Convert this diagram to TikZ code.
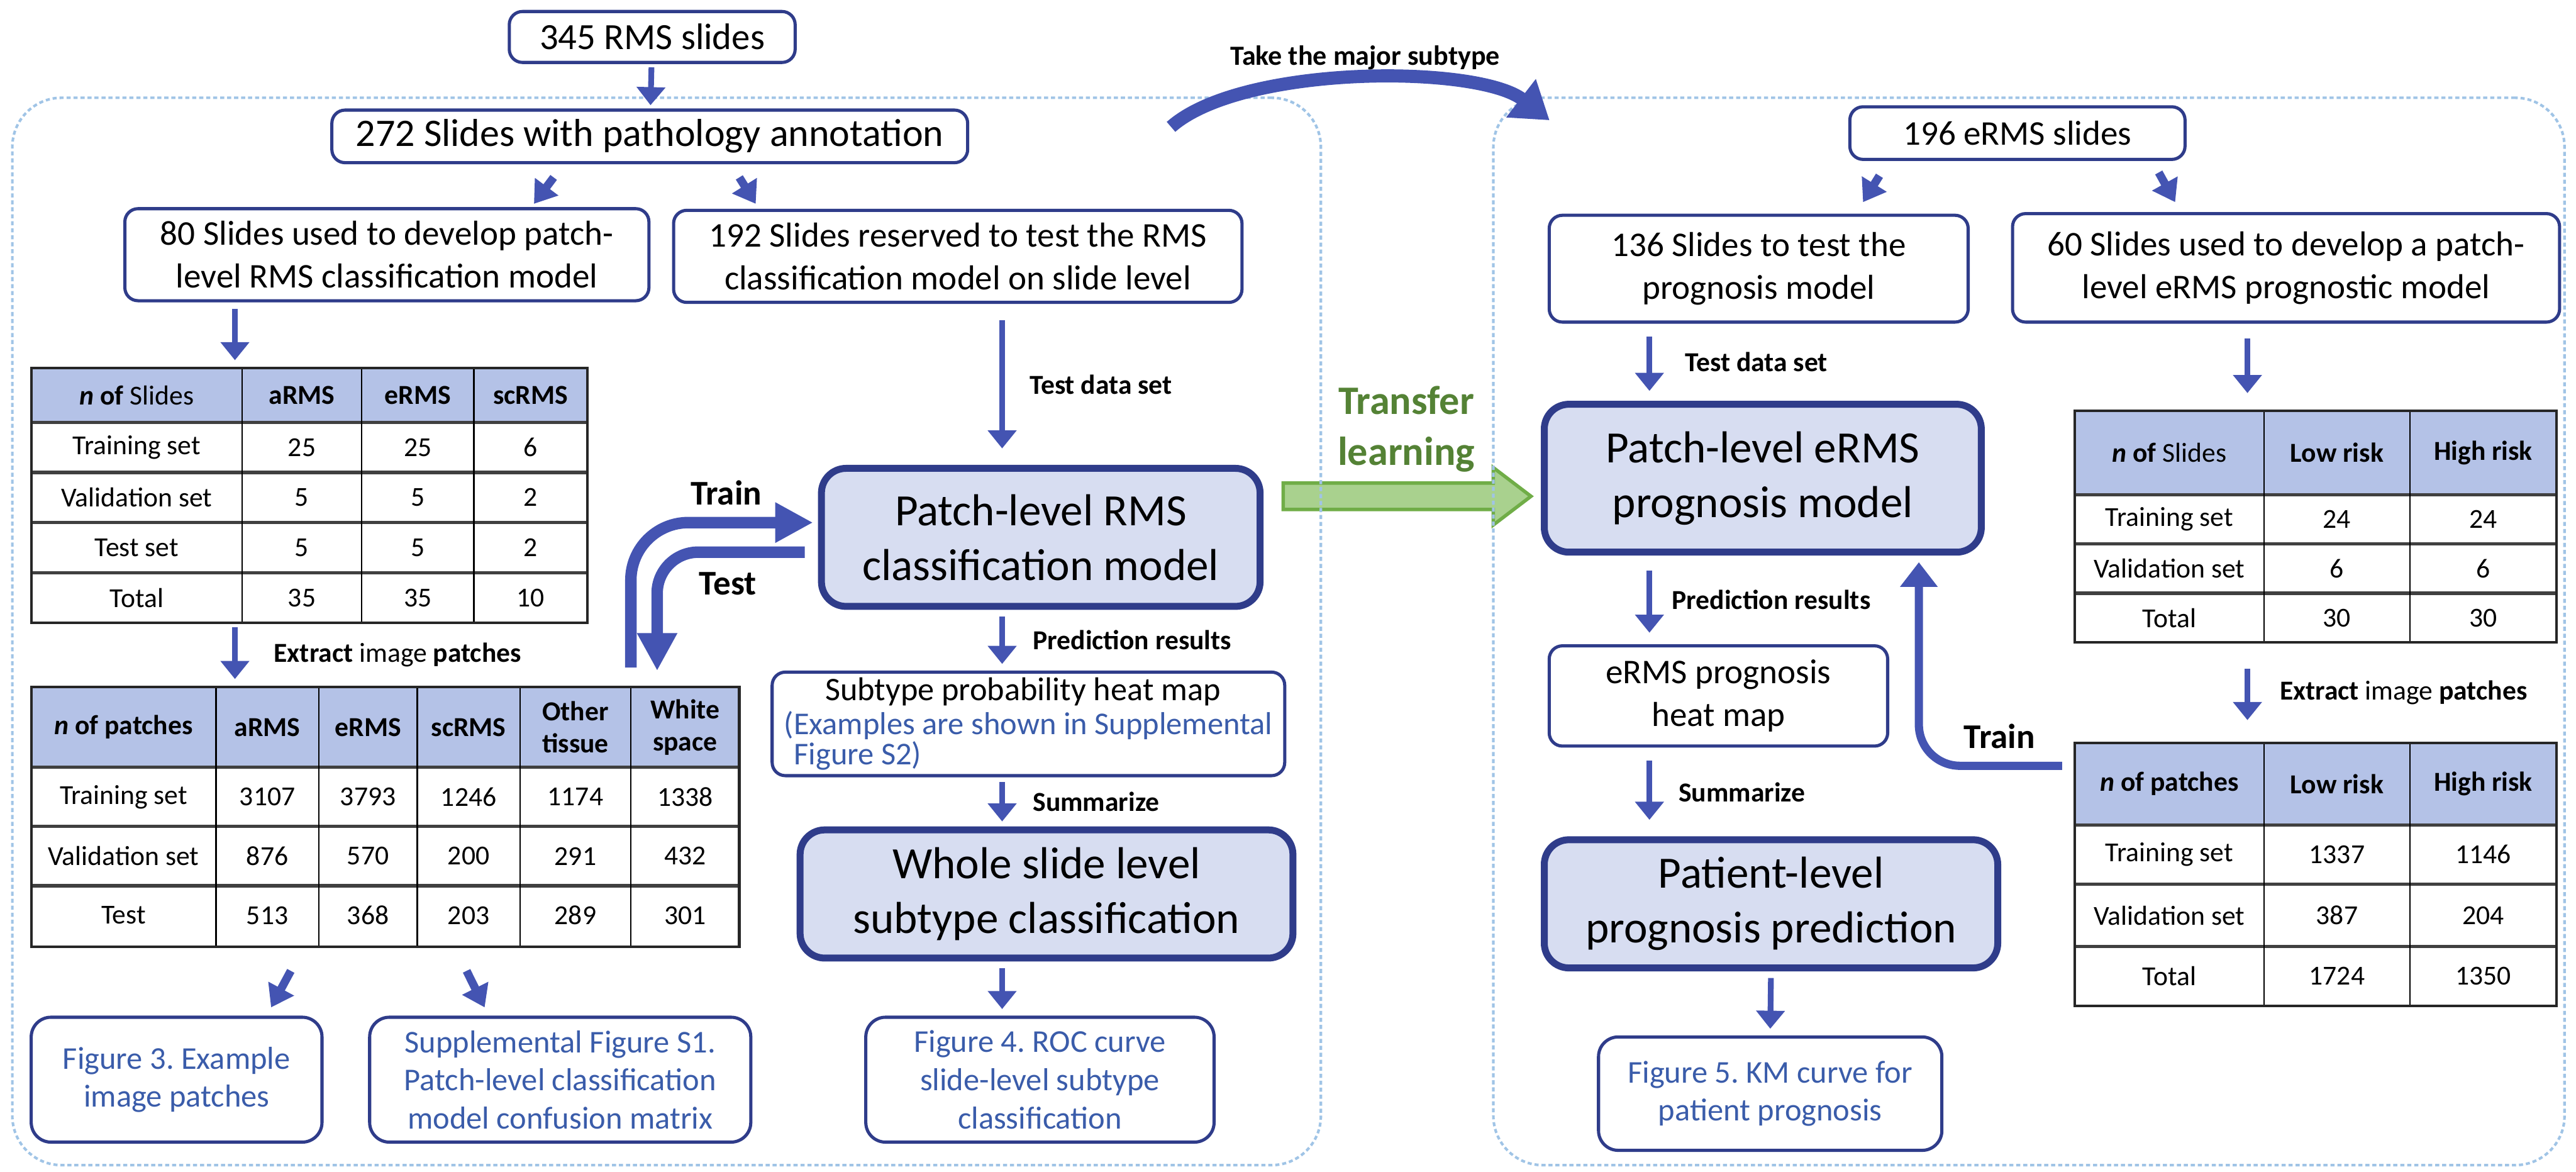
\documentclass[tikz,border=0pt]{standalone}
\usepackage{fontspec}
\setmainfont{Carlito}
\usetikzlibrary{arrows.meta,calc,positioning}
\pgfdeclarelayer{background}
\pgfsetlayers{background,main}

\definecolor{navy}{RGB}{47,60,138}
\definecolor{arrowblue}{RGB}{68,84,178}
\definecolor{headblue}{RGB}{180,194,231}
\definecolor{modelfill}{RGB}{215,221,241}
\definecolor{figblue}{RGB}{58,92,170}
\definecolor{panelblue}{RGB}{160,196,230}
\definecolor{tlgreen}{RGB}{84,130,53}
\definecolor{tlborder}{RGB}{112,173,71}
\definecolor{tlfill}{RGB}{169,209,142}

\newcommand\figtxt[1]{\textcolor{figblue}{\fontsize{11}{13}\selectfont #1}}

\begin{document}
\frenchspacing
\begin{tikzpicture}[x=0.2mm, y=-0.2mm,
    wh/.style 2 args={minimum width=#1*0.2mm, minimum height=#2*0.2mm},
    box/.style={draw=navy, line width=1.1pt, rounded corners=1.6mm, fill=white, align=center, inner sep=0pt, font=\fontsize{12}{14.8}\selectfont},
    modelbox/.style={box, line width=2.4pt, rounded corners=3mm, fill=modelfill, font=\fontsize{15.5}{19}\selectfont},
    figbox/.style={box, rounded corners=2.4mm, text=figblue, font=\fontsize{11}{13.2}\selectfont},
    panel/.style={draw=panelblue, line width=0.9pt, dash pattern=on 0.5mm off 0.35mm, rounded corners=6mm, inner sep=0pt},
    tabframe/.style={draw=black!85, line width=0.9pt, inner sep=0pt},
    tabh/.style={draw=black!75, line width=1.1pt},
    tabv/.style={draw=black, line width=0.5pt},
    cell/.style={align=center, inner sep=0pt, font=\fontsize{9.5}{11}\selectfont},
    headcell/.style={cell, font=\bfseries\fontsize{9.5}{11}\selectfont},
    lbl/.style={inner sep=0pt, font=\bfseries\fontsize{9.5}{11}\selectfont},
    looplbl/.style={inner sep=0pt, font=\bfseries\fontsize{12}{14}\selectfont},
    arr/.style={draw=arrowblue, line width=0.7mm, -{Triangle[width=3.4mm,length=2.2mm]}, shorten <=0.8mm, shorten >=0.8mm},
    splitarr/.style={draw=arrowblue, line width=1mm, -{Triangle[width=3.4mm,length=2.6mm]}},
    bigarr/.style={draw=arrowblue, line width=1.4mm, -{Triangle[width=4.6mm,length=4.6mm]}},
    midarr/.style={draw=arrowblue, line width=1mm, -{Triangle[width=4.4mm,length=3mm]}},
    bendarr/.style={draw=arrowblue, line width=1.6mm, -{Triangle[width=5.6mm,length=4.4mm]}},
    transfer/.style={draw=tlborder, fill=tlfill, line width=1.2pt, line join=miter}]

  \useasboundingbox (0,0) rectangle (1568,713);

  % Two dotted panels
  \node[panel, wh={796.5}{649.5}] (leftpanel) at (405.75,384.25) {};
  \node[panel, wh={652}{649.5}] (rightpanel) at (1235,384.25) {};

  % Classification side
  \node[box, wh={174}{31}, font=\fontsize{12.8}{15}\selectfont] (rms) at (397,22.5) {345 RMS slides};
  \node[box, wh={387}{32}, font=\fontsize{13.5}{16}\selectfont] (annot) at (395.5,83) {272 Slides with pathology annotation};
  \node[box, wh={319}{56}] (dev80) at (235.5,155) {80 Slides used to develop patch-\\level RMS classification model};
  \node[box, wh={346}{56}] (test192) at (583,156) {192 Slides reserved to test the RMS\\classification model on slide level};
  \node[modelbox, wh={267}{84}] (rmsmodel) at (633.5,327) {Patch-level RMS\\classification model};
  \node[box, wh={312}{63}, align=left, font=\fontsize{11.4}{10.4}\selectfont] (heatmap) at (626,440.5)
    {\hspace*{5mm}Subtype probability heat map\\[0.5mm]\figtxt{(Examples are shown in Supplemental}\\\figtxt{\hspace*{1.2mm}Figure S2)}};
  \node[modelbox, wh={300}{78}] (whole) at (637,544) {Whole slide level\\subtype classification};
  \node[figbox, wh={177}{76}] (fig3) at (107.5,657) {Figure 3. Example\\image patches};
  \node[figbox, wh={232}{76}] (figs1) at (341,657) {Supplemental Figure S1.\\Patch-level classification\\model confusion matrix};
  \node[figbox, wh={212}{76}] (fig4) at (633,657) {Figure 4. ROC curve\\slide-level subtype\\classification};

  % Slides per subtype
  \fill[headblue] (19,224) rectangle (357.5,257);
  \foreach \y in {257,287.5,318,348.5} \draw[tabh] (19,\y) -- (357.5,\y);
  \foreach \x in {147.5,220,288.5} \draw[tabv] (\x,224) -- (\x,379);
  \node[tabframe, wh={338.5}{155}] (slidetab) at (188.25,301.5) {};
  \foreach \x/\t [count=\k] in {83.25/{\textit{n} of \mdseries Slides}, 183.75/aRMS, 254.25/eRMS, 323/scRMS}
    \node[headcell] (slide-0-\k) at (\x,240.5) {\t};
  \foreach \t/\a/\b/\s [count=\r] in {Training set/25/25/6, Validation set/5/5/2, Test set/5/5/2, Total/35/35/10} {
    \pgfmathsetmacro\yc{241.75+30.5*\r}
    \node[cell] (slide-\r-1) at (83.25,\yc) {\t};
    \node[cell] (slide-\r-2) at (183.75,\yc) {\a};
    \node[cell] (slide-\r-3) at (254.25,\yc) {\b};
    \node[cell] (slide-\r-4) at (323,\yc) {\s};
  }

  % Patches per class
  \fill[headblue] (19,418) rectangle (450,467);
  \foreach \y in {467,503,539} \draw[tabh] (19,\y) -- (450,\y);
  \foreach \x in {131.5,194,254,316.5,384} \draw[tabv] (\x,418) -- (\x,576);
  \node[tabframe, wh={431}{158}] (patchtab) at (234.5,497) {};
  \foreach \x/\t [count=\k] in {75.25/{\textit{n} of patches}, 162.75/aRMS, 224/eRMS, 285.25/scRMS, 350.25/{Other\\tissue}, 417/{White\\space}}
    \node[headcell] (patch-0-\k) at (\x,442.5) {\t};
  \foreach \t/\a/\b/\s/\o/\w [count=\r] in {Training set/3107/3793/1246/1174/1338, Validation set/876/570/200/291/432, Test/513/368/203/289/301} {
    \pgfmathsetmacro\yc{449+36*\r}
    \foreach \x/\v [count=\k] in {75.25/\t, 162.75/\a, 224/\b, 285.25/\s, 350.25/\o, 417/\w}
      \node[cell] (patch-\r-\k) at (\x,\yc) {\v};
  }

  % Prognosis side
  \node[box, wh={204}{32}] (erms) at (1228,81) {196 eRMS slides};
  \node[box, wh={255}{65}] (test136) at (1070.5,163.5) {136 Slides to test the\\prognosis model};
  \node[box, wh={333}{66}] (dev60) at (1391.5,163) {60 Slides used to develop a patch-\\level eRMS prognostic model};
  \node[modelbox, wh={266}{90}] (ermsmodel) at (1073,291) {Patch-level eRMS\\prognosis model};
  \node[box, wh={206}{61}] (ermsheat) at (1046,423.5) {eRMS prognosis\\heat map};
  \node[modelbox, wh={276}{78}] (patient) at (1078,550) {Patient-level\\prognosis prediction};
  \node[figbox, wh={209}{69}] (fig5) at (1077.5,665.5) {Figure 5. KM curve for\\patient prognosis};

  % Slides per risk group
  \fill[headblue] (1263,250) rectangle (1556,301);
  \foreach \y in {301,331,361} \draw[tabh] (1263,\y) -- (1556,\y);
  \foreach \x in {1378,1467} \draw[tabv] (\x,250) -- (\x,391);
  \node[tabframe, wh={293}{141}] (risktab) at (1409.5,320.5) {};
  \foreach \x/\t [count=\k] in {1320.5/{\textit{n} of \mdseries Slides}, 1422.5/Low risk, 1511.5/High risk}
    \node[headcell] (risk-0-\k) at (\x,275.5) {\t};
  \foreach \t/\a/\b [count=\r] in {Training set/24/24, Validation set/6/6, Total/30/30} {
    \pgfmathsetmacro\yc{286+30*\r}
    \node[cell] (risk-\r-1) at (1320.5,\yc) {\t};
    \node[cell] (risk-\r-2) at (1422.5,\yc) {\a};
    \node[cell] (risk-\r-3) at (1511.5,\yc) {\b};
  }

  % Patches per risk group
  \fill[headblue] (1263,452) rectangle (1556,502);
  \foreach \y in {502,538,576} \draw[tabh] (1263,\y) -- (1556,\y);
  \foreach \x in {1378,1467} \draw[tabv] (\x,452) -- (\x,612);
  \node[tabframe, wh={293}{160}] (riskpatch) at (1409.5,532) {};
  \foreach \x/\t [count=\k] in {1320.5/{\textit{n} of patches}, 1422.5/Low risk, 1511.5/High risk}
    \node[headcell] (riskp-0-\k) at (\x,477) {\t};
  \foreach \t/\a/\b [count=\r] in {Training set/1337/1146, Validation set/387/204, Total/1724/1350} {
    \pgfmathsetmacro\yc{483+37*\r}
    \node[cell] (riskp-\r-1) at (1320.5,\yc) {\t};
    \node[cell] (riskp-\r-2) at (1422.5,\yc) {\a};
    \node[cell] (riskp-\r-3) at (1511.5,\yc) {\b};
  }

  % Columns the straight arrows run along
  \coordinate (tcol) at (143,0);
  \coordinate (lcol) at (610,0);
  \coordinate (rcol) at (1004,0);
  \coordinate (rtcol) at (1368,0);

  % Arrows on the classification side
  \draw[arr, shorten <=0.4mm, shorten >=0.4mm] (rms) -- (annot);
  \draw[splitarr] ($(annot.south)+(-58.5,8)$) -- ($(dev80.north)+(89.5,-2)$);
  \draw[splitarr] ($(annot.south)+(54.5,8)$) -- ($(test192.north)+(-123,-3)$);
  \draw[arr] (dev80.south -| tcol) -- (slidetab.north -| tcol);
  \draw[arr, shorten <=0.4mm] (slidetab.south -| tcol) -- node[lbl, right=4.4mm] (lblextract) {Extract \mdseries image \bfseries patches} (patchtab.north -| tcol);
  \draw[arr, shorten <=2mm, shorten >=2mm] (test192.south -| lcol) -- node[lbl, right=3mm] (lbltest) {Test data set} (rmsmodel.north -| lcol);
  \draw[arr] (rmsmodel.south -| lcol) -- node[lbl, right=3.4mm] (lblpred) {Prediction results} (heatmap.north -| lcol);
  \draw[arr, shorten <=0.6mm, shorten >=0.6mm] (heatmap.south -| lcol) -- node[lbl, right=3.4mm] (lblsum) {Summarize} (whole.north -| lcol);
  \draw[arr] (whole.south -| lcol) -- (fig4.north -| lcol);
  \draw[splitarr] ($(patchtab.south)+(-57.5,14)$) -- ($(fig3.north)+(57.5,-5)$);
  \draw[splitarr] ($(patchtab.south)+(49.5,14)$) -- ($(figs1.north)+(-46,-5)$);

  % Train and test loop
  \coordinate (trainx) at (384,0);
  \coordinate (trainy) at (0,318);
  \coordinate (testx) at (400,0);
  \coordinate (testy) at (0,336);
  \draw[bigarr, rounded corners=7mm, shorten <=2.2mm, shorten >=0.6mm] (trainx |- patchtab.north) |- (rmsmodel.west |- trainy);
  \draw[bigarr, rounded corners=5mm, shorten <=1.6mm, shorten >=1.8mm] (rmsmodel.west |- testy) -| (testx |- patchtab.north);
  \node[looplbl] (lbltrain) at (442,300) {Train};
  \node[looplbl] (lbltestloop) at (443,355) {Test};

  % Arrows on the prognosis side
  \draw[splitarr] ($(erms.south)+(-84,9)$) -- ($(test136.north)+(63.5,-7)$);
  \draw[splitarr] ($(erms.south)+(86,7)$) -- ($(dev60.north)+(-67.5,-6)$);
  \draw[arr, shorten <=1.6mm, shorten >=1.2mm] (test136.south -| rcol) -- node[lbl, right=4mm] (lbltest2) {Test data set} (ermsmodel.north -| rcol);
  \draw[arr, shorten <=1.8mm, shorten >=2mm] (dev60.south -| rtcol) -- (risktab.north -| rtcol);
  \draw[arr, shorten <=1.8mm, shorten >=1.4mm] (ermsmodel.south -| rcol) -- node[lbl, right=2.4mm] (lblpred2) {Prediction results} (ermsheat.north -| rcol);
  \draw[arr, shorten <=1.6mm, shorten >=2mm] (ermsheat.south -| rcol) -- node[lbl, right=3.2mm] (lblsum2) {Summarize} (patient.north -| rcol);
  \draw[arr] (patient.south) -- (fig5.north);
  \draw[arr, shorten <=3mm, shorten >=2.6mm] (risktab.south -| rtcol) -- node[lbl, right=3.6mm] (lblextract2) {Extract \mdseries image \bfseries patches} (riskpatch.north -| rtcol);

  % Train the prognosis model from the patch table
  \coordinate (rtrainx) at (1168,0);
  \coordinate (rtrainy) at (0,466);
  \draw[midarr, rounded corners=5mm, shorten <=1.4mm, shorten >=0.8mm] (riskpatch.west |- rtrainy) -| (rtrainx |- ermsmodel.south);
  \node[looplbl] (lbltrain2) at (1217,448) {Train};

  % Hand over the major subtype
  \draw[bendarr] ($(leftpanel.north east)+(-92,18.5)$) .. controls +(43,-38) and +(-44,-34) .. ($(rightpanel.north west)+(35,14.5)$);
  \node[lbl, font=\bfseries\fontsize{9.6}{11}\selectfont] (lblmajor) at (831,35) {Take the major subtype};

  % Transfer learning block arrow, under the dotted panels
  \begin{pgfonlayer}{background}
    \coordinate (tlstart) at ($(rmsmodel.east)+(12,-25)$);
    \coordinate (tltip) at ($(ermsmodel.west |- tlstart)+(-6,0)$);
    \draw[transfer] ($(tlstart)+(0,-8)$) -- ($(tltip)+(-23,-8)$) -- ($(tltip)+(-23,-17.5)$) -- (tltip)
      -- ($(tltip)+(-23,17.5)$) -- ($(tltip)+(-23,8)$) -- ($(tlstart)+(0,8)$) -- cycle;
  \end{pgfonlayer}
  \node[align=center, text=tlgreen, font=\bfseries\fontsize{14}{17.6}\selectfont] (lbltransfer) at (856,261) {Transfer\\learning};

\end{tikzpicture}
\end{document}
